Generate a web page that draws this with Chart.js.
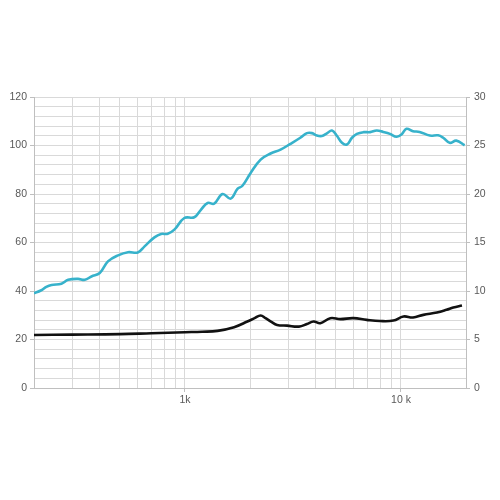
<!DOCTYPE html>
<html><head><meta charset="utf-8">
<script src="https://cdn.jsdelivr.net/npm/chart.js@4"></script>
<style>html,body{margin:0;padding:0;background:#fff}</style>
</head><body>
<canvas id="c" width="500" height="500"></canvas>
<script>
// Frequency response (left axis)
const splFreq = [200,215,228,241,268,288,320,344,369,403,440,490,545,605,650,722,775,832,893,993,1104,1185,1273,1365,1492,1629,1750,1845,2014,2240,2490,2770,3080,3420,3670,3870,4080,4300,4540,4790,5050,5330,5620,5930,6250,6710,7200,7720,8280,8890,9540,10050,10600,11370,12200,13600,14860,15690,16800,18040,19720];
const splValues = [39.1,40.2,41.7,42.5,43,44.6,45,44.6,46,47.4,52.2,54.7,56,55.9,58.4,62.1,63.5,63.6,65.3,70.1,70.4,73.5,76.3,76,80,78.1,82.1,83.4,88.7,94.2,96.7,98.3,100.7,103.2,105.1,105.1,104.1,103.9,105,106.2,104,101.1,100.4,103.2,104.8,105.5,105.5,106.2,105.6,104.8,103.6,104.5,106.9,105.9,105.6,104.1,104.2,103.2,101.1,102,100.1];
// Impedance (right axis)
const impFreq = [200,300,500,700,1000,1200,1414,1688,1945,2100,2240,2360,2500,2670,2970,3370,3670,3940,4230,4710,5240,6020,6940,8000,9220,10270,11370,12690,14670,16250,17470,19160];
const impValues = [5.47,5.5,5.55,5.65,5.75,5.8,5.89,6.27,6.85,7.2,7.47,7.2,6.85,6.5,6.43,6.33,6.6,6.85,6.68,7.2,7.1,7.2,7.02,6.9,6.95,7.37,7.27,7.54,7.78,8.06,8.3,8.5];
// Axes
const xGridFreqs = [200,300,400,500,600,700,800,900,1000,2000,3000,4000,5000,6000,7000,8000,9000,10000,20000];
const xTickLabels = {1000:'1k', 10000:'10 k'};
const leftMin = 0, leftMax = 120, leftGridStep = 4, leftLabelStep = 20;
const rightMin = 0, rightMax = 30, rightLabelStep = 5;

const toXY = (fs, vs) => fs.map((f, i) => ({x: f, y: vs[i]}));
const gridCol = '#d9d9d9', axisCol = '#bfbfbf', txtCol = '#595959';
const font = {family: "'Liberation Sans', Arial, sans-serif", size: 10.5};

new Chart(document.getElementById('c'), {
  type: 'line',
  data: {
    datasets: [
      {data: toXY(splFreq, splValues), yAxisID: 'y', borderColor: '#37b2cb', borderWidth: 2.6, pointRadius: 0, tension: 0.4, fill: false},
      {data: toXY(impFreq, impValues), yAxisID: 'y2', borderColor: '#111111', borderWidth: 2.6, pointRadius: 0, tension: 0.4, fill: false}
    ]
  },
  options: {
    responsive: false, animation: false,
    layout: {padding: {top: 97, bottom: 0, left: 0, right: 0}},
    plugins: {legend: {display: false}, tooltip: {enabled: false}},
    scales: {
      x: {
        type: 'logarithmic', min: xGridFreqs[0], max: xGridFreqs[xGridFreqs.length - 1],
        afterBuildTicks: s => { s.ticks = xGridFreqs.map(v => ({value: v})); },
        afterFit: s => { s.height = 112; },
        ticks: {callback: v => xTickLabels[v] || '', autoSkip: false, maxRotation: 0, color: txtCol, font: font, padding: 2},
        grid: {color: gridCol, tickLength: 4, tickColor: c => (c.tick && xTickLabels[c.tick.value]) ? axisCol : 'rgba(0,0,0,0)'},
        border: {color: axisCol}
      },
      y: {
        position: 'left', min: leftMin, max: leftMax,
        afterBuildTicks: s => { const t = []; for (let v = leftMin; v <= leftMax; v += leftGridStep) t.push({value: v}); s.ticks = t; },
        afterFit: s => { s.width = 34; },
        ticks: {autoSkip: false, callback: v => (v % leftLabelStep === 0 ? String(v) : ''), color: txtCol, font: font, padding: 3},
        grid: {color: gridCol, tickLength: 4, tickColor: c => (c.tick && c.tick.value % leftLabelStep === 0) ? axisCol : 'rgba(0,0,0,0)'},
        border: {color: axisCol}
      },
      y2: {
        position: 'right', min: rightMin, max: rightMax,
        afterBuildTicks: s => { const t = []; for (let v = rightMin; v <= rightMax; v += rightLabelStep) t.push({value: v}); s.ticks = t; },
        afterFit: s => { s.width = 34; },
        ticks: {autoSkip: false, color: txtCol, font: font, padding: 4},
        grid: {drawOnChartArea: false, tickLength: 4, color: axisCol},
        border: {color: axisCol}
      }
    }
  }
});
</script>
</body></html>
